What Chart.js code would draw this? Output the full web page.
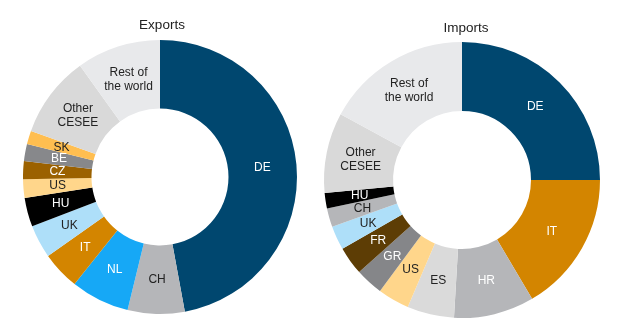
<!DOCTYPE html>
<html>
<head>
<meta charset="utf-8">
<script src="https://cdn.jsdelivr.net/npm/chart.js@4"></script>
<style>
  html, body { margin: 0; padding: 0; background: #fff; }
  #wrap { position: relative; width: 620px; height: 335px; }
  canvas { position: absolute; top: 0; }
  #exports { left: 0; }
  #imports { left: 310px; }
</style>
</head>
<body>
<div id="wrap">
  <canvas id="exports" width="310" height="335"></canvas>
  <canvas id="imports" width="310" height="335"></canvas>
</div>
<script>
// --- data, shares in % ---
const exportLabels = ['DE', 'CH', 'NL', 'IT', 'UK', 'HU', 'US', 'CZ', 'BE', 'SK', 'Other CESEE', 'Rest of the world'];
const exportValues = [47.0, 6.7, 6.9, 4.5, 3.9, 3.4, 2.2, 2.1, 2.0, 1.6, 9.6, 9.9];

const importLabels = ['DE', 'IT', 'HR', 'ES', 'US', 'GR', 'FR', 'UK', 'CH', 'HU', 'Other CESEE', 'Rest of the world'];
const importValues = [25.0, 16.5, 9.4, 5.5, 3.7, 3.25, 3.3, 2.8, 2.2, 1.8, 9.4, 17.1];

// colours per country
const colours = {
  'DE': '#00476f',
  'CH': '#b5b6b9',
  'NL': '#16a8f6',
  'IT': '#d38500',
  'UK': '#aedff9',
  'HU': '#000000',
  'US': '#ffd68b',
  'CZ': '#9b6100',
  'BE': '#87888b',
  'SK': '#ffbe50',
  'HR': '#b5b6b9',
  'ES': '#dadada',
  'GR': '#858689',
  'FR': '#5d3d05',
  'Other CESEE': '#d9d9d9',
  'Rest of the world': '#e8e9eb'
};
const whiteText = {
  exports: ['DE', 'NL', 'IT', 'HU', 'CZ', 'BE'],
  imports: ['DE', 'IT', 'HR', 'GR', 'FR', 'HU']
};
const lineBreaks = { 'Other CESEE': ['Other', 'CESEE'], 'Rest of the world': ['Rest of', 'the world'] };

const FONT = '"Liberation Sans", Arial, sans-serif';

// draws the title and the slice labels at mid radius
const labelPlugin = {
  id: 'sliceLabels',
  afterDatasetsDraw(chart, args, opts) {
    const ctx = chart.ctx;
    const meta = chart.getDatasetMeta(0);
    ctx.save();
    ctx.textAlign = 'center';
    ctx.textBaseline = 'middle';
    ctx.font = `12px ${FONT}`;
    meta.data.forEach((arc, i) => {
      const p = arc.getProps(['x', 'y', 'startAngle', 'endAngle', 'innerRadius', 'outerRadius'], true);
      const mid = (p.startAngle + p.endAngle) / 2;
      const r = (p.innerRadius + p.outerRadius) / 2;
      const x = p.x + Math.cos(mid) * r;
      const y = p.y + Math.sin(mid) * r;
      const name = chart.data.labels[i];
      const lines = lineBreaks[name] || [name];
      ctx.fillStyle = opts.white.includes(name) ? '#ffffff' : '#222222';
      lines.forEach((ln, k) => {
        ctx.fillText(ln, x, y + (k - (lines.length - 1) / 2) * 14);
      });
    });
    ctx.font = `13.5px ${FONT}`;
    ctx.fillStyle = '#222222';
    ctx.fillText(opts.title, opts.titleX, opts.titleY);
    ctx.restore();
  }
};

function makeDonut(id, labels, values, padding, extra) {
  const ctx = document.getElementById(id).getContext('2d');
  return new Chart(ctx, {
    type: 'doughnut',
    data: {
      labels: labels,
      datasets: [{
        data: values,
        backgroundColor: labels.map(l => colours[l]),
        borderWidth: 0
      }]
    },
    options: {
      responsive: false,
      animation: false,
      devicePixelRatio: 1,
      cutout: '50%',
      layout: { padding: padding },
      plugins: {
        legend: { display: false },
        tooltip: { enabled: false },
        sliceLabels: extra
      }
    },
    plugins: [labelPlugin]
  });
}

makeDonut('exports', exportLabels, exportValues,
  { left: 23, right: 13, top: 40, bottom: 21 },
  { title: 'Exports', titleX: 162, titleY: 25, white: whiteText.exports });

makeDonut('imports', importLabels, importValues,
  { left: 14, right: 20, top: 42, bottom: 17 },
  { title: 'Imports', titleX: 156, titleY: 28, white: whiteText.imports });
</script>
</body>
</html>
